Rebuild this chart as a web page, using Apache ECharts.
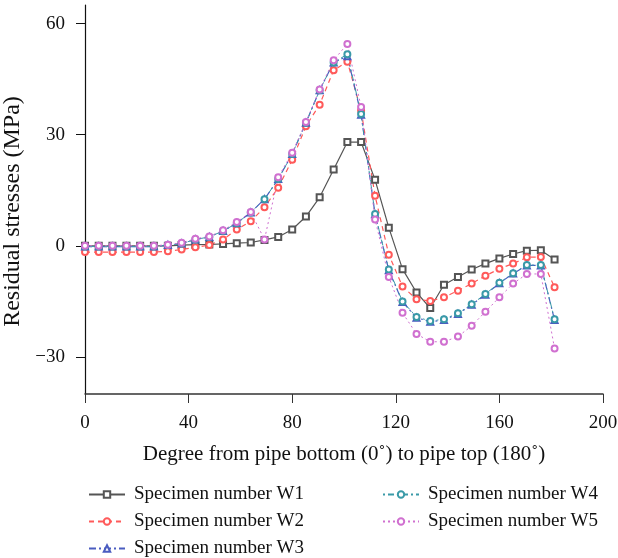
<!DOCTYPE html>
<html>
<head>
<meta charset="utf-8">
<script src="https://cdn.jsdelivr.net/npm/echarts@6/dist/echarts.min.js"></script>
<style>
  html, body { margin: 0; padding: 0; background: #fff; }
  #chart { width: 618px; height: 558px; }
</style>
</head>
<body>
<div id="chart"></div>
<script>
// degree positions of the measuring points
const degrees = [0, 5.3, 10.6, 16, 21.3, 26.6, 32, 37.3, 42.6, 48, 53.3, 58.6, 64, 69.3, 74.6, 80, 85.3,
  90.6, 96, 101.3, 106.6, 112, 117.3, 122.6, 128, 133.3, 138.6, 144, 149.3, 154.6, 160, 165.3, 170.6, 176, 181.3];

const w1 = [0, 0, 0, 0, 0, 0, 0, 0.2, 0.3, 0.35, 0.5, 0.7, 0.9, 1.6, 2.4, 4.4, 7.9,
  13.1, 20.6, 28, 28, 17.8, 4.9, -6.3, -12.6, -16.8, -10.5, -8.4, -6.4, -4.8, -3.4, -2.2, -1.3, -1.2, -3.7];
const w2 = [-1.7, -1.7, -1.7, -1.7, -1.7, -1.7, -1.5, -1.0, -0.4, 0.2, 1.7, 4.4, 6.6, 10.4, 15.7, 23.2, 32.3,
  38.1, 47.4, 49.7, 36.5, 13.5, -2.4, -11, -14.4, -14.9, -13.9, -12.1, -10.2, -8.1, -6.2, -4.8, -3.1, -3.0, -11.2];
const w3 = [-0.2, -0.2, -0.2, -0.2, -0.2, -0.2, 0.2, 0.6, 1.7, 2.4, 4.0, 6.1, 9.0, 12.6, 18.0, 24.8, 33.2,
  42.0, 49.5, 51.2, 35.4, 8.5, -6.6, -15.2, -19.4, -20.5, -20.0, -18.4, -15.9, -13.2, -10.1, -7.5, -5.3, -5.3, -20.0];
const w4 = [-0.2, -0.2, -0.2, -0.2, -0.2, -0.2, 0.2, 0.6, 1.7, 2.4, 4.0, 6.1, 9.0, 12.6, 18.0, 24.8, 33.2,
  42.0, 49.5, 51.7, 35.6, 8.6, -6.4, -15.0, -19.2, -20.3, -19.8, -18.2, -15.8, -13.0, -10.0, -7.4, -5.2, -5.2, -19.8];
const w5 = [0, 0, 0, 0, 0, 0, 0.3, 0.8, 1.9, 2.5, 4.2, 6.4, 9.1, 1.7, 18.5, 25.1, 33.4,
  42.2, 50.1, 54.5, 37.5, 7.1, -8.4, -18.1, -23.8, -25.9, -25.9, -24.5, -21.6, -17.8, -13.9, -10.2, -7.6, -7.6, -27.7];

const names = ['Specimen number W1', 'Specimen number W2', 'Specimen number W3', 'Specimen number W4', 'Specimen number W5'];
const yTicks = [-30, 0, 30, 60];

const font = 'Liberation Serif';
const ink = '#111';

function pairs(values) {
  return values.map((v, i) => [degrees[i], v]);
}

function makeSeries(name, values, color, symbol, dash, width) {
  return {
    name,
    type: 'line',
    data: pairs(values),
    symbol,
    symbolSize: 6,
    showSymbol: true,
    itemStyle: { color, borderColor: color, borderWidth: 1 },
    lineStyle: { color, width, type: dash },
    emphasis: { disabled: true },
    animation: false,
  };
}

// one legend block per entry so the two columns sit where the reference has them
function legendItem(name, left, top) {
  return {
    data: [name],
    left,
    top,
    itemWidth: 36,
    itemHeight: 8,
    selectedMode: false,
    textStyle: { fontFamily: font, fontSize: 19, color: ink, padding: [0, 0, 0, 4] },
  };
}

const chart = echarts.init(document.getElementById('chart'));

chart.setOption({
  backgroundColor: '#fff',
  textStyle: { fontFamily: font },
  grid: { left: 85, right: 15, top: 5, bottom: 164, outerBoundsMode: 'none' },
  xAxis: {
    type: 'value',
    min: 0,
    max: 200,
    interval: 40,
    name: 'Degree from pipe bottom (0˚) to pipe top (180˚)',
    nameLocation: 'center',
    nameGap: 50,
    nameTextStyle: { fontFamily: font, fontSize: 21, color: ink },
    axisLine: { onZero: false, lineStyle: { color: '#333', width: 1.5 } },
    axisTick: { length: 9, lineStyle: { color: '#333' } },
    axisLabel: { fontFamily: font, fontSize: 19, color: ink, margin: 20 },
    splitLine: { show: false },
  },
  yAxis: {
    type: 'value',
    min: -40,
    max: 65,
    name: 'Residual stresses (MPa)',
    nameLocation: 'center',
    nameGap: 55,
    nameTextStyle: { fontFamily: font, fontSize: 24, color: ink, padding: [0, 24, 0, 0] },
    axisLine: { show: true, onZero: false, lineStyle: { color: ink, width: 1.2 } },
    axisTick: { show: true, length: 9, customValues: yTicks, lineStyle: { color: ink } },
    axisLabel: { fontFamily: font, fontSize: 19, color: ink, margin: 20, customValues: yTicks,
      formatter: v => v < 0 ? '\u2212' + Math.abs(v) : String(v) },
    splitLine: { show: false },
  },
  legend: [
    legendItem(names[0], 83, 480),
    legendItem(names[1], 83, 507),
    legendItem(names[2], 83, 534),
    legendItem(names[3], 377, 480),
    legendItem(names[4], 377, 507),
  ],
  series: [
    makeSeries(names[0], w1, '#555', 'emptyRect', 'solid', 1.2),
    makeSeries(names[1], w2, '#ff5a5a', 'emptyCircle', [5, 4], 1.2),
    makeSeries(names[2], w3, '#4a5cc0', 'emptyTriangle', [7, 3, 2, 3], 1.2),
    makeSeries(names[3], w4, '#3a9aa8', 'emptyCircle', [2, 3, 6, 3], 1.0),
    makeSeries(names[4], w5, '#d070d0', 'emptyCircle', [2, 3], 1.0),
  ],
});
</script>
</body>
</html>
